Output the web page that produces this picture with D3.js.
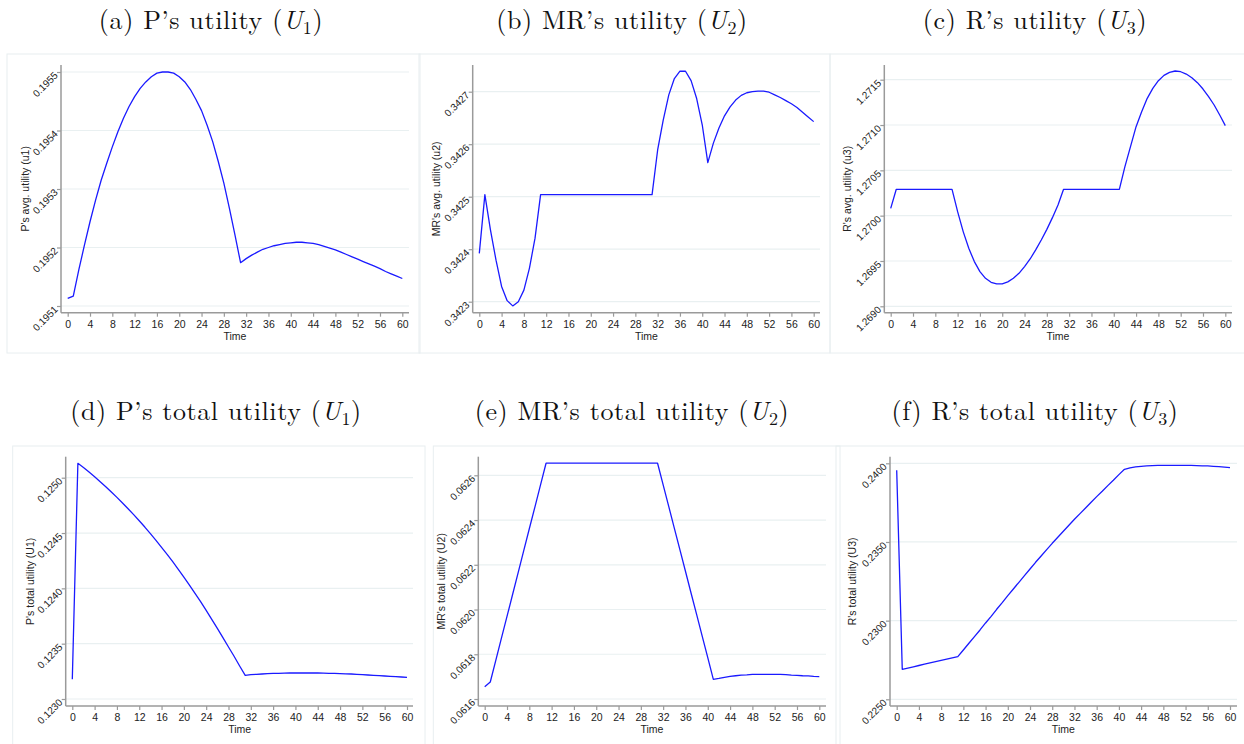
<!DOCTYPE html>
<html>
<head>
<meta charset="utf-8">
<script src="https://cdn.jsdelivr.net/npm/d3@7"></script>
<style>
  html, body { margin: 0; padding: 0; background: #fff; }
  svg { display: block; }
</style>
</head>
<body>
<div id="chart"></div>
<script>
// Datos (t = 0..60)
const time = [0,1,2,3,4,5,6,7,8,9,10,11,12,13,14,15,16,17,18,19,20,21,22,23,24,25,26,27,28,29,30,
  31,32,33,34,35,36,37,38,39,40,41,42,43,44,45,46,47,48,49,50,51,52,53,54,55,56,57,58,59,60];
const xTicks = [0,4,8,12,16,20,24,28,32,36,40,44,48,52,56,60];

// (a) utilidad media de P
const pAvg = [0.195113,0.195117,0.195162,0.195204,0.195244,0.195281,0.195315,0.195344,0.195372,0.195398,
  0.195421,0.195441,0.195458,0.195472,0.195483,0.195492,0.195498,0.195500,0.195500,0.195498,
  0.195492,0.195483,0.195470,0.195453,0.195434,0.195409,0.195381,0.195347,0.195310,0.195267,
  0.195221,0.195174,0.195181,0.195187,0.195192,0.195197,0.195200,0.195203,0.195205,0.195207,
  0.195208,0.195209,0.195209,0.195208,0.195207,0.195205,0.195202,0.195199,0.195196,0.195192,
  0.195188,0.195184,0.195180,0.195176,0.195172,0.195168,0.195164,0.195159,0.195155,0.195151,0.195147];
const pAvgTicks = [0.1951,0.1952,0.1953,0.1954,0.1955];

// (b) utilidad media de MR
const mrAvg = [0.342392,0.342504,0.342437,0.342379,0.342329,0.342302,0.342292,0.342300,0.342322,0.342364,
  0.342421,0.342504,0.342504,0.342504,0.342504,0.342504,0.342504,0.342504,0.342504,0.342504,
  0.342504,0.342504,0.342504,0.342504,0.342504,0.342504,0.342504,0.342504,0.342504,0.342504,
  0.342504,0.342504,0.342589,0.342646,0.342694,0.342725,0.342739,0.342739,0.342721,0.342687,
  0.342637,0.342565,0.342602,0.342631,0.342654,0.342671,0.342684,0.342693,0.342698,0.342700,
  0.342701,0.342701,0.342699,0.342694,0.342689,0.342683,0.342677,0.342670,0.342661,0.342652,0.342643];
const mrAvgTicks = [0.3423,0.3424,0.3425,0.3426,0.3427];

// (c) utilidad media de R
const rAvg = [1.270081,1.270291,1.270291,1.270291,1.270291,1.270291,1.270291,1.270291,1.270291,1.270291,
  1.270291,1.270291,1.270044,1.269824,1.269640,1.269493,1.269383,1.269309,1.269265,1.269247,
  1.269247,1.269269,1.269309,1.269364,1.269438,1.269522,1.269622,1.269732,1.269849,1.269978,
  1.270118,1.270291,1.270291,1.270291,1.270291,1.270291,1.270291,1.270291,1.270291,1.270291,
  1.270291,1.270291,1.270541,1.270761,1.270982,1.271147,1.271294,1.271404,1.271489,1.271548,
  1.271581,1.271596,1.271588,1.271562,1.271522,1.271467,1.271397,1.271313,1.271221,1.271110,1.270993];
const rAvgTicks = [1.2690,1.2695,1.2700,1.2705,1.2710,1.2715];

// (d) utilidad total de P
const pTotal = [0.123178,0.125130,0.125093,0.125051,0.125009,0.124964,0.124919,0.124870,0.124822,0.124771,
  0.124720,0.124666,0.124611,0.124554,0.124494,0.124434,0.124370,0.124307,0.124241,0.124172,
  0.124102,0.124030,0.123955,0.123880,0.123801,0.123720,0.123639,0.123554,0.123470,0.123386,
  0.123298,0.123214,0.123220,0.123223,0.123226,0.123229,0.123231,0.123232,0.123233,0.123235,
  0.123235,0.123235,0.123235,0.123235,0.123235,0.123233,0.123232,0.123232,0.123229,0.123227,
  0.123226,0.123223,0.123220,0.123217,0.123214,0.123211,0.123208,0.123205,0.123202,0.123199,0.123196];
const pTotalTicks = [0.1230,0.1235,0.1240,0.1245,0.1250];

// (e) utilidad total de MR
const mrTotal = [0.061655,0.061676,0.061774,0.061872,0.061969,0.062067,0.062165,0.062263,0.062361,0.062458,
  0.062556,0.062654,0.062654,0.062654,0.062654,0.062654,0.062654,0.062654,0.062654,0.062654,
  0.062654,0.062654,0.062654,0.062654,0.062654,0.062654,0.062654,0.062654,0.062654,0.062654,
  0.062654,0.062654,0.062557,0.062461,0.062364,0.062268,0.062171,0.062074,0.061978,0.061881,
  0.061785,0.061688,0.061692,0.061697,0.061701,0.061704,0.061707,0.061708,0.061710,0.061710,
  0.061710,0.061710,0.061710,0.061710,0.061709,0.061707,0.061706,0.061704,0.061703,0.061701,0.061700];
const mrTotalTicks = [0.0616,0.0618,0.0620,0.0622,0.0624,0.0626];

// (f) utilidad total de R
const rTotal = [0.239555,0.226907,0.226987,0.227068,0.227148,0.227229,0.227310,0.227390,0.227471,0.227551,
  0.227632,0.227712,0.228136,0.228560,0.228983,0.229407,0.229852,0.230276,0.230721,0.231144,
  0.231589,0.232013,0.232437,0.232860,0.233284,0.233708,0.234110,0.234513,0.234915,0.235297,
  0.235678,0.236059,0.236441,0.236801,0.237161,0.237521,0.237881,0.238220,0.238581,0.238920,
  0.239280,0.239619,0.239703,0.239767,0.239809,0.239831,0.239852,0.239862,0.239873,0.239873,
  0.239873,0.239873,0.239873,0.239862,0.239852,0.239841,0.239831,0.239809,0.239788,0.239756,0.239725];
const rTotalTicks = [0.2250,0.2300,0.2350,0.2400];

// Paneles: posición de cada gráfico en la página
const panels = [
  { tag: "(a)", who: "P’s utility", sub: "1", ylabel: "P's avg. utility (u1)", values: pAvg, ticks: pAvgTicks,
    box: [7, 54, 420, 353], cx: 211, axisX: 61, x0: 67.7, x1: 402.3, gridEnd: 409, row: 0, yTop: 72, yBot: 306, ytX: 25 },
  { tag: "(b)", who: "MR’s utility", sub: "2", ylabel: "MR's avg. utility (u2)", values: mrAvg, ticks: mrAvgTicks,
    box: [419, 54, 830, 353], cx: 622, axisX: 472.7, x0: 479.3, x1: 813.7, gridEnd: 820, row: 0, yTop: 91.7, yBot: 301.7, ytX: 436.7 },
  { tag: "(c)", who: "R’s utility", sub: "3", ylabel: "R's avg. utility (u3)", values: rAvg, ticks: rAvgTicks,
    box: [830, 54, 1250, 353], cx: 1035, axisX: 884.3, x0: 890.7, x1: 1225.3, gridEnd: 1232, row: 0, yTop: 79.7, yBot: 306.3, ytX: 847.7 },
  { tag: "(d)", who: "P’s total utility", sub: "1", ylabel: "P's total utility (U1)", values: pTotal, ticks: pTotalTicks,
    box: [12.7, 446, 425, 760], cx: 216, axisX: 65.7, x0: 72.3, x1: 407, gridEnd: 413, row: 1, yTop: 477.7, yBot: 699, ytX: 30 },
  { tag: "(e)", who: "MR’s total utility", sub: "2", ylabel: "MR's total utility (U2)", values: mrTotal, ticks: mrTotalTicks,
    box: [433.3, 446, 840, 760], cx: 632, axisX: 478.3, x0: 484.7, x1: 819.3, gridEnd: 826, row: 1, yTop: 475.3, yBot: 699, ytX: 441.7 },
  { tag: "(f)", who: "R’s total utility", sub: "3", ylabel: "R's total utility (U3)", values: rTotal, ticks: rTotalTicks,
    box: [836, 446, 1250, 760], cx: 1035, axisX: 890, x0: 896.7, x1: 1230, gridEnd: 1237, row: 1, yTop: 463.3, yBot: 699.3, ytX: 852.7 }
];

// Datos por fila (títulos y ejes)
const rows = [
  { titleY: 29, axisTop: 65, axisY: 312.7, timeY: 339.5 },
  { titleY: 420, axisTop: 456.7, axisY: 706, timeY: 733 }
];

const W = 1244, H = 744;
const sans = "'Liberation Sans', Arial, Helvetica, sans-serif";
const serif = "'Latin Modern Roman', 'CMU Serif', 'Liberation Serif', 'Times New Roman', serif";
const axisColor = "#9a9a9a";
const gridColor = "#e9f0f1";

const svg = d3.select("#chart").append("svg")
  .attr("width", W)
  .attr("height", H)
  .style("background", "#fff");

panels.forEach(p => {
  const r = rows[p.row];
  const g = svg.append("g");

  // Marco del panel
  g.append("rect")
    .attr("x", p.box[0]).attr("y", p.box[1])
    .attr("width", p.box[2] - p.box[0]).attr("height", p.box[3] - p.box[1])
    .attr("fill", "none").attr("stroke", "#e8eef0").attr("stroke-width", 1);

  // Título (estilo LaTeX)
  const t = g.append("text")
    .attr("x", p.cx).attr("y", r.titleY)
    .attr("text-anchor", "middle")
    .style("font-family", serif)
    .style("font-size", "26px")
    .style("letter-spacing", "0.6px")
    .attr("fill", "#111");
  t.append("tspan").text(`${p.tag} ${p.who} (`);
  t.append("tspan").style("font-style", "italic").text("U");
  t.append("tspan").style("font-size", "18px").attr("dy", 5).text(p.sub);
  t.append("tspan").attr("dy", -5).text(")");

  const x = d3.scaleLinear().domain([0, 60]).range([p.x0, p.x1]);
  const y = d3.scaleLinear()
    .domain([p.ticks[0], p.ticks[p.ticks.length - 1]])
    .range([p.yBot, p.yTop]);

  // Líneas de cuadrícula
  g.append("g").selectAll("line")
    .data(p.ticks)
    .enter().append("line")
    .attr("x1", p.axisX).attr("x2", p.gridEnd)
    .attr("y1", d => y(d)).attr("y2", d => y(d))
    .attr("stroke", gridColor).attr("stroke-width", 1.2);

  // Eje X
  const gx = g.append("g")
    .attr("transform", `translate(0,${r.axisY})`)
    .call(d3.axisBottom(x).tickValues(xTicks).tickSize(4).tickPadding(4).tickSizeOuter(0));
  gx.select(".domain").remove();
  gx.selectAll(".tick line").attr("stroke", axisColor).attr("stroke-width", 1.2);
  gx.selectAll(".tick text")
    .attr("fill", "#222")
    .style("font-family", sans)
    .style("font-size", "10.5px");
  gx.append("line")
    .attr("x1", p.axisX).attr("x2", p.gridEnd)
    .attr("y1", 0).attr("y2", 0)
    .attr("stroke", axisColor).attr("stroke-width", 1.5);

  // Eje Y
  const gy = g.append("g")
    .attr("transform", `translate(${p.axisX},0)`)
    .call(d3.axisLeft(y).tickValues(p.ticks).tickSize(4).tickPadding(2)
      .tickSizeOuter(0).tickFormat(d3.format(".4f")));
  gy.select(".domain").remove();
  gy.selectAll(".tick line").attr("stroke", axisColor).attr("stroke-width", 1.2);
  gy.selectAll(".tick text")
    .attr("fill", "#222")
    .attr("dy", "0.5em")
    .attr("transform", "rotate(-45 -6 0)")
    .style("font-family", sans)
    .style("font-size", "10px");
  gy.append("line")
    .attr("x1", 0).attr("x2", 0)
    .attr("y1", r.axisTop).attr("y2", r.axisY)
    .attr("stroke", axisColor).attr("stroke-width", 1.5);

  // Títulos de ejes
  g.append("text")
    .attr("x", (p.x0 + p.x1) / 2).attr("y", r.timeY)
    .attr("text-anchor", "middle")
    .style("font-family", sans).style("font-size", "10.5px")
    .attr("fill", "#222")
    .text("Time");
  g.append("text")
    .attr("transform", `translate(${p.ytX},${(r.axisTop + r.axisY) / 2}) rotate(-90)`)
    .attr("text-anchor", "middle")
    .attr("dy", "0.35em")
    .style("font-family", sans).style("font-size", "10.5px")
    .attr("fill", "#222")
    .text(p.ylabel);

  // Serie
  const line = d3.line()
    .x((d, i) => x(time[i]))
    .y(d => y(d));
  g.append("path")
    .datum(p.values)
    .attr("d", line)
    .attr("fill", "none")
    .attr("stroke", "#1a1aff")
    .attr("stroke-width", 1.3)
    .attr("stroke-linejoin", "round");
});
</script>
</body>
</html>
